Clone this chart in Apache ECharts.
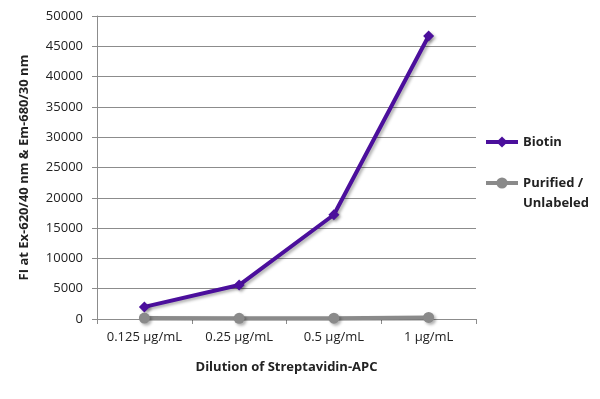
<!DOCTYPE html>
<html>
<head>
<meta charset="utf-8">
<script src="https://cdn.jsdelivr.net/npm/echarts@6/dist/echarts.min.js"></script>
<style>
  html, body { margin: 0; padding: 0; background: #fff; }
  #chart { width: 600px; height: 399px; }
</style>
</head>
<body>
<div id="chart"></div>
<script>
const categories = ['0.125 μg/mL', '0.25 μg/mL', '0.5 μg/mL', '1 μg/mL'];
const biotin = [2000, 5600, 17200, 46700];
const unlabeled = [150, 120, 130, 250];

const font = '"Open Sans", "Noto Sans", sans-serif';
const chart = echarts.init(document.getElementById('chart'));

const shadow = {
  shadowColor: 'rgba(0, 0, 0, 0.3)',
  shadowBlur: 3,
  shadowOffsetX: 2,
  shadowOffsetY: 2
};

const legendText = { fontFamily: font, fontSize: 13, fontWeight: 'bold', color: '#222', lineHeight: 20 };

chart.setOption({
  animation: false,
  textStyle: { fontFamily: font },
  grid: { left: 97, right: 124, top: 16, bottom: 80 },
  legend: [
    {
      data: ['Biotin'],
      left: 479,
      top: 127,
      itemWidth: 32,
      itemHeight: 14,
      lineStyle: { width: 4 },
      textStyle: legendText
    },
    {
      data: ['Purified / Unlabeled'],
      left: 479,
      top: 148,
      itemWidth: 32,
      itemHeight: 14,
      lineStyle: { width: 4 },
      formatter: () => '\nPurified /\nUnlabeled',
      textStyle: legendText
    }
  ],
  xAxis: {
    type: 'category',
    data: categories,
    boundaryGap: true,
    name: 'Dilution of Streptavidin-APC',
    nameLocation: 'middle',
    nameGap: 42,
    nameTextStyle: { fontFamily: font, fontSize: 13, fontWeight: 'bold', color: '#222' },
    axisLine: { lineStyle: { color: '#8c8c8c', width: 1 } },
    axisTick: { show: true, length: 5, lineStyle: { color: '#8c8c8c' } },
    axisLabel: { fontFamily: font, fontSize: 13, color: '#222', margin: 12, interval: 0 }
  },
  yAxis: {
    type: 'value',
    min: 0,
    max: 50000,
    interval: 5000,
    name: 'FI at Ex-620/40 nm & Em-680/30 nm',
    nameLocation: 'middle',
    nameGap: 66,
    nameTextStyle: { fontFamily: font, fontSize: 13, fontWeight: 'bold', color: '#222' },
    axisLine: { show: true, lineStyle: { color: '#8c8c8c', width: 1 } },
    axisTick: { show: true, length: 5, lineStyle: { color: '#8c8c8c' } },
    axisLabel: { fontFamily: font, fontSize: 13, color: '#222', margin: 14, formatter: v => String(v) },
    splitLine: { show: true, lineStyle: { color: '#8c8c8c', width: 1 } }
  },
  series: [
    {
      name: 'Biotin',
      type: 'line',
      data: biotin,
      symbol: 'diamond',
      symbolSize: 11,
      lineStyle: Object.assign({ color: '#4b0f9c', width: 4 }, shadow),
      itemStyle: Object.assign({ color: '#4b0f9c' }, shadow)
    },
    {
      name: 'Purified / Unlabeled',
      type: 'line',
      data: unlabeled,
      symbol: 'circle',
      symbolSize: 11,
      lineStyle: Object.assign({ color: '#8a8a8a', width: 4 }, shadow),
      itemStyle: Object.assign({ color: '#8a8a8a' }, shadow)
    }
  ]
});
</script>
</body>
</html>
